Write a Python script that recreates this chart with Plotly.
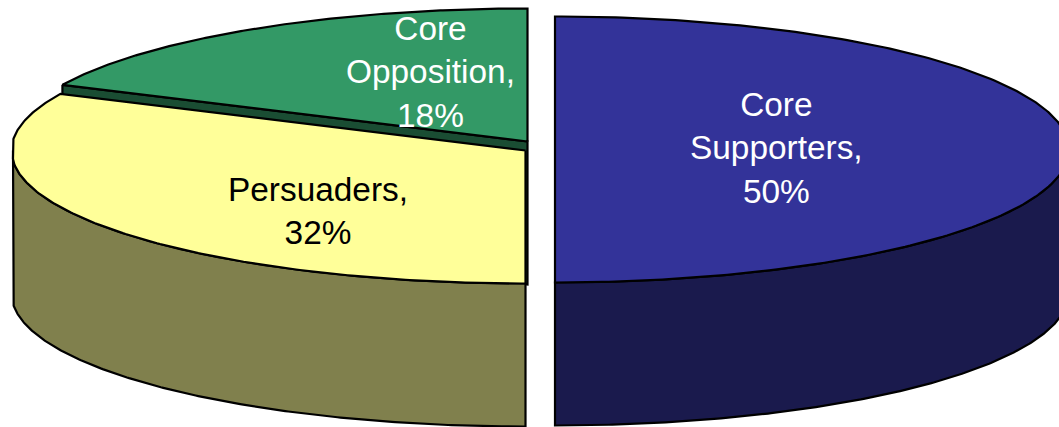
import numpy as np
import plotly.graph_objects as go

# Data
categories = ["Core Supporters", "Persuaders", "Core Opposition"]
label_lines = [["Core", "Supporters"], ["Persuaders"], ["Core", "Opposition"]]
shares = [50, 32, 18]

# Style
top_colors = ["#333399", "#FFFF99", "#339966"]
side_colors = ["#1A1A4D", "#80804D", "#1A4D33"]
text_colors = ["#FFFFFF", "#000000", "#FFFFFF"]

# Layout geometry of the exploded pie (pixel-like axis units)
W, H = 1059, 427
A, B, DEPTH = 514, 133, 143
LEFT_LIMIT = 13  # the source picture crops the pie's left extreme flat
centers = [(555, 149.5), (525.5, 150.5), (527.5, 141.5)]
label_pos = [(776, 148), (318, 211), (430, 72)]


def rim(cx, cy, a0, a1, dy=0):
    phi = np.radians(np.linspace(a0, a1, 240))
    return np.maximum(cx + A * np.sin(phi), LEFT_LIMIT), cy - B * np.cos(phi) + dy


def poly(xs, ys, fill):
    return go.Scatter(
        x=np.round(xs, 2), y=np.round(ys, 2), mode="lines", fill="toself",
        fillcolor=fill, line=dict(color="#000000", width=2.2), hoverinfo="skip",
        showlegend=False,
    )


fig = go.Figure()
ends = np.cumsum(shares) * 3.6
starts = np.concatenate([[0], ends[:-1]])

# Paint back to front: green, blue, yellow.
for i in [2, 0, 1]:
    cx, cy = centers[i]
    a0, a1 = starts[i], ends[i]

    # flat cut wall seen at the slice's leading edge (green only shows a sliver)
    if i == 2:
        ex, ey = rim(cx, cy, a0, a0)
        fig.add_trace(poly(
            np.array([ex[0], cx, cx, ex[0], ex[0]]),
            np.array([ey[0], cy, cy + DEPTH, ey[0] + DEPTH, ey[0]]),
            side_colors[i],
        ))

    # outer wall, front half of the rim only
    w0, w1 = max(a0, 90), min(a1, 270)
    if w1 > w0:
        tx, ty = rim(cx, cy, w0, w1)
        bx, by = rim(cx, cy, w0, w1, DEPTH)
        fig.add_trace(poly(
            np.concatenate([tx, bx[::-1], tx[:1]]),
            np.concatenate([ty, by[::-1], ty[:1]]),
            side_colors[i],
        ))

    # top face
    tx, ty = rim(cx, cy, a0, a1)
    fig.add_trace(poly(
        np.concatenate([[cx], tx, [cx]]),
        np.concatenate([[cy], ty, [cy]]),
        top_colors[i],
    ))

for lines, share, (lx, ly), col in zip(label_lines, shares, label_pos, text_colors):
    fig.add_annotation(
        x=lx, y=ly, xref="x", yref="y", showarrow=False,
        text="<br>".join(lines[:-1] + [lines[-1] + ","] + [f"{share}%"]),
        font=dict(family="Liberation Sans, Arial, sans-serif", size=33.4, color=col),
        align="center", xanchor="center", yanchor="middle",
    )

fig.update_layout(
    width=W, height=H, margin=dict(l=0, r=0, t=0, b=0),
    paper_bgcolor="#FFFFFF", plot_bgcolor="#FFFFFF", showlegend=False,
    xaxis=dict(range=[0, W], visible=False, fixedrange=True),
    yaxis=dict(range=[H, 0], visible=False, fixedrange=True),
)
fig.write_html(
    "out.html",
    config={"displayModeBar": False},
    post_script="document.body.style.margin='0';document.body.style.overflow='hidden';",
)
